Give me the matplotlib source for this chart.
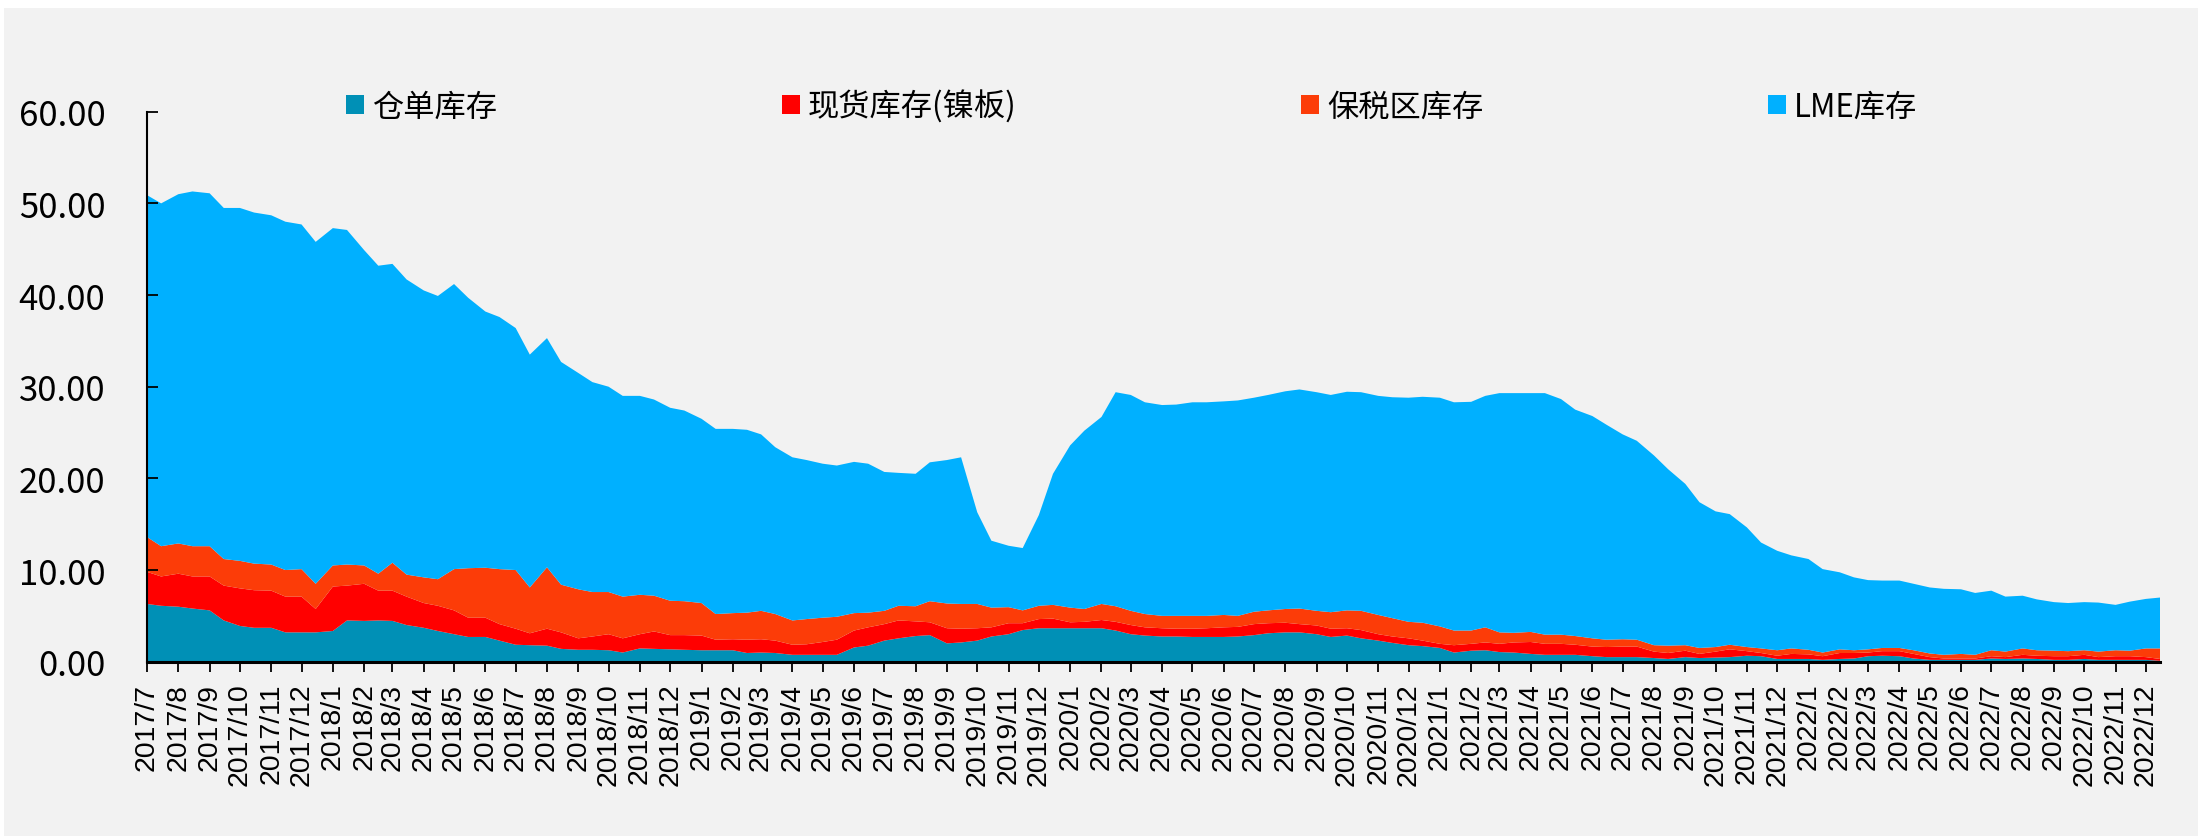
import matplotlib
matplotlib.use("Agg")
import matplotlib.pyplot as plt
import matplotlib.dates as mdates
from matplotlib.patches import Patch, Rectangle
import pandas as pd

# semi-monthly samples, 2017/7 .. 2022/12 (万吨)
dates = pd.date_range("2017-07-01", "2022-12-15", freq="SMS")

cangdan = [  # 仓单库存
    6.3, 6.1, 6.0, 5.8, 5.6, 4.5, 3.9, 3.7, 3.7, 3.2, 3.2, 3.2,
    3.35, 4.5, 4.45, 4.5, 4.45, 4.0, 3.7, 3.35, 3.0, 2.7, 2.7, 2.3,
    1.85, 1.8, 1.75, 1.4, 1.3, 1.3, 1.25, 1.0, 1.45, 1.4, 1.35, 1.3,
    1.25, 1.25, 1.25, 0.95, 1.0, 0.95, 0.75, 0.75, 0.75, 0.75, 1.55, 1.75,
    2.3, 2.55, 2.8, 2.9, 2.0, 2.1, 2.3, 2.75, 3.0, 3.45, 3.65, 3.65,
    3.65, 3.65, 3.65, 3.4, 3.0, 2.85, 2.75, 2.75, 2.7, 2.7, 2.7, 2.75,
    2.9, 3.1, 3.2, 3.2, 3.0, 2.7, 2.85, 2.55, 2.3, 2.05, 1.8, 1.7,
    1.5, 1.0, 1.2, 1.25, 1.05, 1.0, 0.85, 0.75, 0.75, 0.75, 0.6, 0.5,
    0.5, 0.5, 0.4, 0.3, 0.5, 0.4, 0.45, 0.5, 0.65, 0.6, 0.3, 0.3,
    0.3, 0.2, 0.3, 0.35, 0.6, 0.65, 0.6, 0.35, 0.2, 0.2, 0.2, 0.2,
    0.35, 0.3, 0.35, 0.3, 0.2, 0.2, 0.3, 0.2, 0.2, 0.2, 0.2, 0.1,
]
xianhuo = [  # 现货库存(镍板)
    3.5, 3.2, 3.6, 3.5, 3.7, 3.8, 4.1, 4.1, 4.05, 3.9, 3.9, 2.55,
    4.85, 3.8, 4.05, 3.25, 3.3, 3.1, 2.7, 2.75, 2.6, 2.1, 2.1, 1.8,
    1.75, 1.3, 1.85, 1.8, 1.25, 1.45, 1.75, 1.55, 1.55, 1.9, 1.55, 1.6,
    1.6, 1.15, 1.2, 1.45, 1.45, 1.35, 1.1, 1.15, 1.4, 1.65, 1.85, 2.0,
    1.8, 1.95, 1.6, 1.4, 1.65, 1.5, 1.35, 1.0, 1.2, 0.75, 1.0, 1.05,
    0.65, 0.7, 0.9, 0.95, 1.0, 0.9, 0.9, 0.85, 0.9, 0.95, 1.05, 1.05,
    1.2, 1.1, 1.05, 0.9, 0.95, 0.9, 0.8, 0.9, 0.7, 0.7, 0.75, 0.6,
    0.45, 0.8, 0.75, 0.85, 0.9, 1.1, 1.3, 1.2, 1.2, 1.1, 1.05, 1.1,
    1.15, 1.15, 0.7, 0.65, 0.7, 0.45, 0.65, 0.85, 0.5, 0.35, 0.35, 0.55,
    0.5, 0.4, 0.65, 0.6, 0.4, 0.5, 0.55, 0.5, 0.3, 0.15, 0.15, 0.15,
    0.25, 0.2, 0.4, 0.35, 0.4, 0.4, 0.45, 0.3, 0.4, 0.4, 0.3, 0.2,
]
baoshui = [  # 保税区库存
    3.8, 3.3, 3.3, 3.3, 3.3, 2.9, 3.0, 2.9, 2.85, 2.9, 3.0, 2.75,
    2.3, 2.3, 2.0, 1.85, 3.05, 2.4, 2.8, 2.9, 4.5, 5.4, 5.45, 6.0,
    6.4, 5.0, 6.7, 5.2, 5.35, 4.85, 4.6, 4.55, 4.3, 3.9, 3.75, 3.7,
    3.55, 2.8, 2.85, 2.95, 3.1, 2.9, 2.65, 2.75, 2.65, 2.5, 1.9, 1.6,
    1.45, 1.6, 1.65, 2.3, 2.7, 2.7, 2.65, 2.15, 1.75, 1.4, 1.45, 1.5,
    1.6, 1.4, 1.75, 1.7, 1.55, 1.45, 1.35, 1.4, 1.4, 1.35, 1.35, 1.2,
    1.35, 1.4, 1.5, 1.7, 1.6, 1.8, 1.95, 2.1, 2.1, 2.0, 1.8, 1.95,
    1.9, 1.6, 1.45, 1.65, 1.25, 1.05, 1.1, 1.0, 1.0, 0.95, 0.9, 0.8,
    0.8, 0.75, 0.7, 0.8, 0.6, 0.65, 0.5, 0.5, 0.45, 0.5, 0.6, 0.6,
    0.5, 0.4, 0.4, 0.3, 0.35, 0.35, 0.35, 0.4, 0.4, 0.4, 0.5, 0.4,
    0.65, 0.6, 0.7, 0.6, 0.6, 0.55, 0.5, 0.6, 0.65, 0.6, 0.95, 1.15,
]
lme = [  # LME库存
    37.3, 37.4, 38.1, 38.7, 38.5, 38.3, 38.5, 38.3, 38.1, 38.0, 37.6, 37.3,
    36.8, 36.5, 34.4, 33.6, 32.6, 32.2, 31.3, 30.9, 31.1, 29.5, 27.95, 27.5,
    26.4, 25.4, 25.0, 24.3, 23.6, 22.9, 22.4, 21.9, 21.7, 21.4, 21.05, 20.8,
    20.1, 20.2, 20.1, 19.95, 19.25, 18.2, 17.8, 17.35, 16.8, 16.5, 16.5, 16.25,
    15.15, 14.5, 14.45, 15.15, 15.65, 16.0, 10.0, 7.3, 6.7, 6.8, 9.9, 14.3,
    17.7, 19.45, 20.4, 23.35, 23.55, 23.1, 23.0, 23.05, 23.3, 23.3, 23.3, 23.5,
    23.35, 23.5, 23.75, 23.9, 23.85, 23.7, 23.85, 23.85, 23.9, 24.1, 24.45, 24.65,
    24.95, 24.9, 24.95, 25.25, 26.1, 26.15, 26.05, 26.35, 25.7, 24.7, 24.25, 23.45,
    22.35, 21.7, 20.7, 19.25, 17.6, 15.9, 14.8, 14.25, 13.05, 11.55, 10.85, 10.15,
    9.9, 9.1, 8.4, 7.95, 7.55, 7.35, 7.35, 7.25, 7.2, 7.2, 7.05, 6.75,
    6.5, 6.0, 5.75, 5.55, 5.3, 5.25, 5.25, 5.35, 4.95, 5.35, 5.4, 5.55,
]

labels = ["仓单库存", "现货库存(镍板)", "保税区库存", "LME库存"]
colors = ["#0090B6", "#FF0000", "#FC3C08", "#00B0FF"]
for s in (cangdan, xianhuo, baoshui, lme):
    assert len(s) == len(dates)

W, H = 2198, 837
fig = plt.figure(figsize=(W / 100, H / 100), dpi=100, facecolor="white")
fig.patches.append(Rectangle((4 / W, 0), 1, 1 - 9 / H, transform=fig.transFigure,
                             facecolor="#F2F2F2", edgecolor="none", zorder=-10))

x0, x1 = 147, 2160
y0, y1 = H - 662.7, H - 112.7
ax = fig.add_axes([x0 / W, y0 / H, (x1 - x0) / W, (y1 - y0) / H])
ax.patch.set_alpha(0)

ax.stackplot(dates, cangdan, xianhuo, baoshui, lme, colors=colors,
             labels=labels, linewidth=0)

ax.set_xlim(dates[0], dates[-1])
ax.set_ylim(0, 60)
ax.set_yticks(range(0, 61, 10))
ax.yaxis.set_major_formatter(matplotlib.ticker.FormatStrFormatter("%.2f"))
ax.xaxis.set_major_locator(mdates.MonthLocator())
ax.xaxis.set_major_formatter(
    matplotlib.ticker.FuncFormatter(lambda v, _: f"{mdates.num2date(v).year}/{mdates.num2date(v).month}"))

for side in ("top", "right"):
    ax.spines[side].set_visible(False)
ax.spines["left"].set_linewidth(1.5)
ax.spines["bottom"].set_linewidth(2.2)
ax.spines["bottom"].set_zorder(5)

ax.tick_params(axis="y", direction="in", length=8, width=1.3, pad=30)
ax.tick_params(axis="x", direction="out", length=7, width=1.3, pad=8)
for t in ax.get_yticklabels():
    t.set_fontfamily(["Noto Sans CJK SC", "DejaVu Sans"])
    t.set_fontsize(25)
for t in ax.get_xticklabels():
    t.set_fontfamily("Liberation Sans")
    t.set_fontsize(20.5)
    t.set_rotation(90)

handles = [Patch(facecolor=c, edgecolor="none") for c in colors]
fig.legend(handles, labels, loc="center left", bbox_to_anchor=(346 / W, 1 - 107 / H),
           ncol=4, frameon=False, borderpad=0, borderaxespad=0,
           handlelength=0.58, handleheight=0.58, handletextpad=0.26,
           columnspacing=9.1,
           prop={"family": ["Noto Sans CJK SC", "DejaVu Sans"], "size": 22.5})

fig.savefig("out.png", dpi=100, facecolor=fig.get_facecolor())
